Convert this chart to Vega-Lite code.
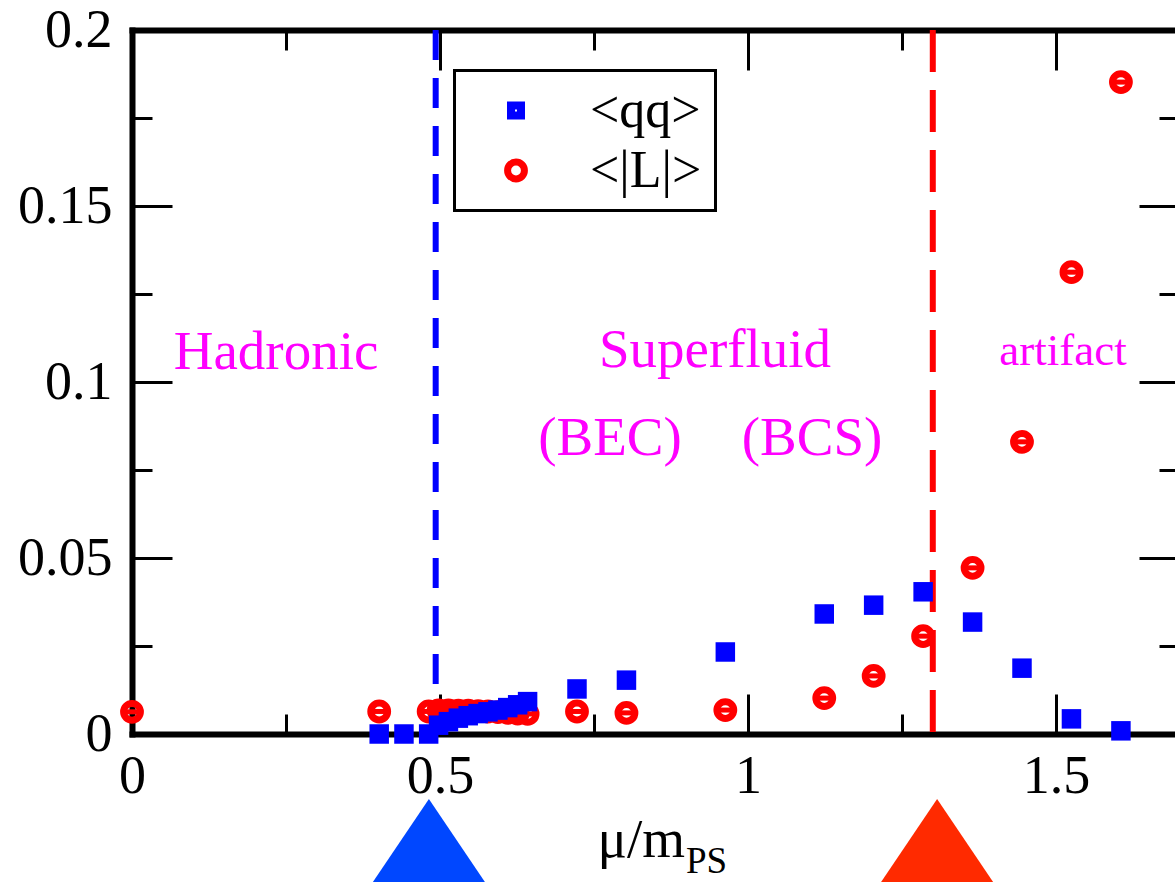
{
  "$schema": "https://vega.github.io/schema/vega-lite/v6.json",
  "width": 1043,
  "height": 704,
  "autosize": {"type": "none"},
  "padding": {"left": 132, "top": 30, "right": 0, "bottom": 148},
  "background": "white",
  "config": {
    "font": "Liberation Serif",
    "view": {"stroke": null},
    "axis": {
      "grid": false,
      "domainColor": "black",
      "domainWidth": 6,
      "domainCap": "square",
      "tickColor": "black",
      "tickWidth": 3,
      "labelFont": "Liberation Serif",
      "labelFontSize": 54,
      "labelColor": "black",
      "labelOverlap": false,
      "labelFlush": false,
      "labelBound": false,
      "zindex": 1
    },
    "legend": {
      "strokeColor": "black",
      "strokeWidth": 3,
      "fillColor": "white",
      "padding": 14,
      "rowPadding": 8,
      "labelFont": "Liberation Serif",
      "labelFontSize": 52,
      "labelColor": "black",
      "symbolOffset": 21.5,
      "labelOffset": 48,
      "labelLimit": 400
    }
  },
  "datasets": {
    "pts": [
      {"x": 0.0, "y": 0.0063, "series": "<|L|>"},
      {"x": 0.4013, "y": 0.0064, "series": "<|L|>"},
      {"x": 0.4816, "y": 0.0064, "series": "<|L|>"},
      {"x": 0.4977, "y": 0.0067, "series": "<|L|>"},
      {"x": 0.5137, "y": 0.0067, "series": "<|L|>"},
      {"x": 0.5298, "y": 0.0066, "series": "<|L|>"},
      {"x": 0.5458, "y": 0.0066, "series": "<|L|>"},
      {"x": 0.5619, "y": 0.0065, "series": "<|L|>"},
      {"x": 0.5779, "y": 0.0064, "series": "<|L|>"},
      {"x": 0.594, "y": 0.0062, "series": "<|L|>"},
      {"x": 0.61, "y": 0.006, "series": "<|L|>"},
      {"x": 0.6261, "y": 0.0058, "series": "<|L|>"},
      {"x": 0.6422, "y": 0.0057, "series": "<|L|>"},
      {"x": 0.7224, "y": 0.0064, "series": "<|L|>"},
      {"x": 0.8027, "y": 0.006, "series": "<|L|>"},
      {"x": 0.9632, "y": 0.0068, "series": "<|L|>"},
      {"x": 1.1238, "y": 0.0102, "series": "<|L|>"},
      {"x": 1.204, "y": 0.0165, "series": "<|L|>"},
      {"x": 1.2843, "y": 0.0278, "series": "<|L|>"},
      {"x": 1.3646, "y": 0.0472, "series": "<|L|>"},
      {"x": 1.4448, "y": 0.083, "series": "<|L|>"},
      {"x": 1.5251, "y": 0.1312, "series": "<|L|>"},
      {"x": 1.6054, "y": 0.1852, "series": "<|L|>"},
      {"x": 0.4013, "y": 0.0, "series": "<qq>"},
      {"x": 0.4415, "y": 0.0, "series": "<qq>"},
      {"x": 0.4816, "y": 0.0, "series": "<qq>"},
      {"x": 0.4977, "y": 0.0025, "series": "<qq>"},
      {"x": 0.5137, "y": 0.0035, "series": "<qq>"},
      {"x": 0.5298, "y": 0.0045, "series": "<qq>"},
      {"x": 0.5458, "y": 0.0052, "series": "<qq>"},
      {"x": 0.5619, "y": 0.0058, "series": "<qq>"},
      {"x": 0.5779, "y": 0.0063, "series": "<qq>"},
      {"x": 0.594, "y": 0.0068, "series": "<qq>"},
      {"x": 0.61, "y": 0.0075, "series": "<qq>"},
      {"x": 0.6261, "y": 0.0083, "series": "<qq>"},
      {"x": 0.6422, "y": 0.0092, "series": "<qq>"},
      {"x": 0.7224, "y": 0.0128, "series": "<qq>"},
      {"x": 0.8027, "y": 0.0153, "series": "<qq>"},
      {"x": 0.9632, "y": 0.0233, "series": "<qq>"},
      {"x": 1.1238, "y": 0.0341, "series": "<qq>"},
      {"x": 1.204, "y": 0.0366, "series": "<qq>"},
      {"x": 1.2843, "y": 0.0404, "series": "<qq>"},
      {"x": 1.3646, "y": 0.0318, "series": "<qq>"},
      {"x": 1.4448, "y": 0.0187, "series": "<qq>"},
      {"x": 1.5251, "y": 0.0043, "series": "<qq>"},
      {"x": 1.6054, "y": 0.0009, "series": "<qq>"}
    ],
    "regions": [
      {"text": "Hadronic", "x": 0.2338, "y": 0.1037},
      {"text": "Superfluid", "x": 0.9464, "y": 0.1043},
      {"text": "(BEC)", "x": 0.776, "y": 0.0793},
      {"text": "(BCS)", "x": 1.1039, "y": 0.0793}
    ]
  },
  "layer": [
    {
      "data": {"values": [{"mu": 0.493}]},
      "mark": {"type": "rule", "color": "#0000ff", "strokeWidth": 6, "strokeDash": [30, 18]},
      "encoding": {
        "x": {"field": "mu", "type": "quantitative", "scale": {"domain": [0, 1.6932], "nice": false}, "axis": null}
      }
    },
    {
      "data": {"values": [{"mu": 1.3}]},
      "mark": {"type": "rule", "color": "#ff0000", "strokeWidth": 6, "strokeDash": [42, 18]},
      "encoding": {
        "x": {"field": "mu", "type": "quantitative", "scale": {"domain": [0, 1.6932], "nice": false}, "axis": null}
      }
    },
    {
      "data": {"name": "pts"},
      "transform": [{"filter": "datum.series === '<|L|>'"}],
      "mark": {"type": "point", "filled": false, "opacity": 1},
      "encoding": {
        "x": {
          "field": "x", "type": "quantitative",
          "scale": {"domain": [0, 1.6932], "nice": false},
          "axis": {
            "orient": "bottom", "title": null,
            "values": [0, 0.25, 0.5, 0.75, 1, 1.25, 1.5],
            "tickSize": {"expr": "(datum.value * 2) % 1 === 0 ? -40 : -20"},
            "labelPadding": 55,
            "labelExpr": "(datum.value * 2) % 1 === 0 ? format(datum.value, '~g') : ''"
          }
        },
        "y": {
          "field": "y", "type": "quantitative",
          "scale": {"domain": [0, 0.2], "nice": false},
          "axis": {
            "orient": "left", "title": null,
            "values": [0, 0.025, 0.05, 0.075, 0.1, 0.125, 0.15, 0.175, 0.2],
            "tickSize": {"expr": "round(datum.value * 40) % 2 === 0 ? -40 : -20"},
            "labelPadding": 60,
            "labelExpr": "round(datum.value * 40) % 2 === 0 ? format(datum.value, '~g') : ''"
          }
        },
        "color": {
          "field": "series", "type": "nominal",
          "scale": {"domain": ["<qq>", "<|L|>"], "range": ["#0000ff", "#ff0000"]},
          "legend": {"orient": "none", "legendX": 322.5, "legendY": 40.5, "title": null, "labelExpr": "datum.label + '\u2009'"}
        },
        "shape": {"field": "series", "type": "nominal", "scale": {"domain": ["<qq>", "<|L|>"], "range": ["square", "circle"]}},
        "size": {"field": "series", "type": "nominal", "scale": {"domain": ["<qq>", "<|L|>"], "range": [100, 283]}},
        "strokeWidth": {"field": "series", "type": "nominal", "scale": {"domain": ["<qq>", "<|L|>"], "range": [8, 7]}}
      }
    },
    {
      "data": {"name": "pts"},
      "transform": [{"filter": "datum.series === '<|L|>'"}],
      "mark": {"type": "point", "filled": false, "opacity": 1, "shape": "M-1,0L1,0", "size": 144, "strokeWidth": 5, "color": "#ff0000"},
      "encoding": {
        "x": {"field": "x", "type": "quantitative", "scale": {"domain": [0, 1.6932], "nice": false}, "axis": null},
        "y": {"field": "y", "type": "quantitative", "scale": {"domain": [0, 0.2], "nice": false}, "axis": null}
      }
    },
    {
      "data": {"name": "pts"},
      "transform": [{"filter": "datum.series === '<qq>'"}],
      "mark": {"type": "point", "filled": true, "opacity": 1, "shape": "square", "size": 380, "strokeWidth": 0, "color": "#0000ff"},
      "encoding": {
        "x": {"field": "x", "type": "quantitative", "scale": {"domain": [0, 1.6932], "nice": false}, "axis": null},
        "y": {"field": "y", "type": "quantitative", "scale": {"domain": [0, 0.2], "nice": false}, "axis": null}
      }
    },
    {
      "data": {"name": "regions"},
      "mark": {"type": "text", "font": "Liberation Serif", "fontSize": 55, "color": "#ff00ff", "align": "center", "baseline": "alphabetic"},
      "encoding": {
        "x": {
          "field": "x", "type": "quantitative",
          "scale": {"domain": [0, 1.6932], "nice": false},
          "axis": {
            "orient": "top", "title": null, "labels": false,
            "values": [0, 0.25, 0.5, 0.75, 1, 1.25, 1.5],
            "tickSize": {"expr": "(datum.value * 2) % 1 === 0 ? -40 : -20"}
          }
        },
        "y": {
          "field": "y", "type": "quantitative",
          "scale": {"domain": [0, 0.2], "nice": false},
          "axis": {
            "orient": "right", "title": null, "labels": false, "domain": false,
            "values": [0, 0.025, 0.05, 0.075, 0.1, 0.125, 0.15, 0.175, 0.2],
            "tickSize": {"expr": "round(datum.value * 40) % 2 === 0 ? -36 : -16"}
          }
        },
        "text": {"field": "text"}
      }
    },
    {
      "data": {"values": [{"text": "artifact", "x": 1.5114, "y": 0.1048}]},
      "mark": {"type": "text", "font": "Liberation Serif", "fontSize": 45, "color": "#ff00ff", "align": "center", "baseline": "alphabetic"},
      "encoding": {
        "x": {"field": "x", "type": "quantitative", "scale": {"domain": [0, 1.6932], "nice": false}, "axis": null},
        "y": {"field": "y", "type": "quantitative", "scale": {"domain": [0, 0.2], "nice": false}, "axis": null},
        "text": {"field": "text"}
      }
    },
    {
      "data": {"values": [{"text": "μ/m", "x": 0.8977, "y": -0.0349}]},
      "mark": {"type": "text", "font": "Liberation Serif", "fontSize": 55, "color": "black", "align": "right", "baseline": "alphabetic"},
      "encoding": {
        "x": {"field": "x", "type": "quantitative", "scale": {"domain": [0, 1.6932], "nice": false}, "axis": null},
        "y": {"field": "y", "type": "quantitative", "scale": {"domain": [0, 0.2], "nice": false}, "axis": null},
        "text": {"field": "text"}
      }
    },
    {
      "data": {"values": [{"text": "PS", "x": 0.8994, "y": -0.0394}]},
      "mark": {"type": "text", "font": "Liberation Serif", "fontSize": 37, "color": "black", "align": "left", "baseline": "alphabetic"},
      "encoding": {
        "x": {"field": "x", "type": "quantitative", "scale": {"domain": [0, 1.6932], "nice": false}, "axis": null},
        "y": {"field": "y", "type": "quantitative", "scale": {"domain": [0, 0.2], "nice": false}, "axis": null},
        "text": {"field": "text"}
      }
    },
    {
      "data": {"values": [{"x": 0.482, "y": -0.0341}]},
      "mark": {"type": "point", "filled": true, "opacity": 1, "shape": "M0,-1L1.35,1L-1.35,1Z", "size": 12100, "strokeWidth": 0, "color": "#0047ff"},
      "encoding": {
        "x": {"field": "x", "type": "quantitative", "scale": {"domain": [0, 1.6932], "nice": false}, "axis": null},
        "y": {"field": "y", "type": "quantitative", "scale": {"domain": [0, 0.2], "nice": false}, "axis": null}
      }
    },
    {
      "data": {"values": [{"x": 1.307, "y": -0.0341}]},
      "mark": {"type": "point", "filled": true, "opacity": 1, "shape": "M0,-1L1.35,1L-1.35,1Z", "size": 12100, "strokeWidth": 0, "color": "#ff2a00"},
      "encoding": {
        "x": {"field": "x", "type": "quantitative", "scale": {"domain": [0, 1.6932], "nice": false}, "axis": null},
        "y": {"field": "y", "type": "quantitative", "scale": {"domain": [0, 0.2], "nice": false}, "axis": null}
      }
    }
  ],
  "resolve": {"axis": {"x": "independent", "y": "independent"}}
}
